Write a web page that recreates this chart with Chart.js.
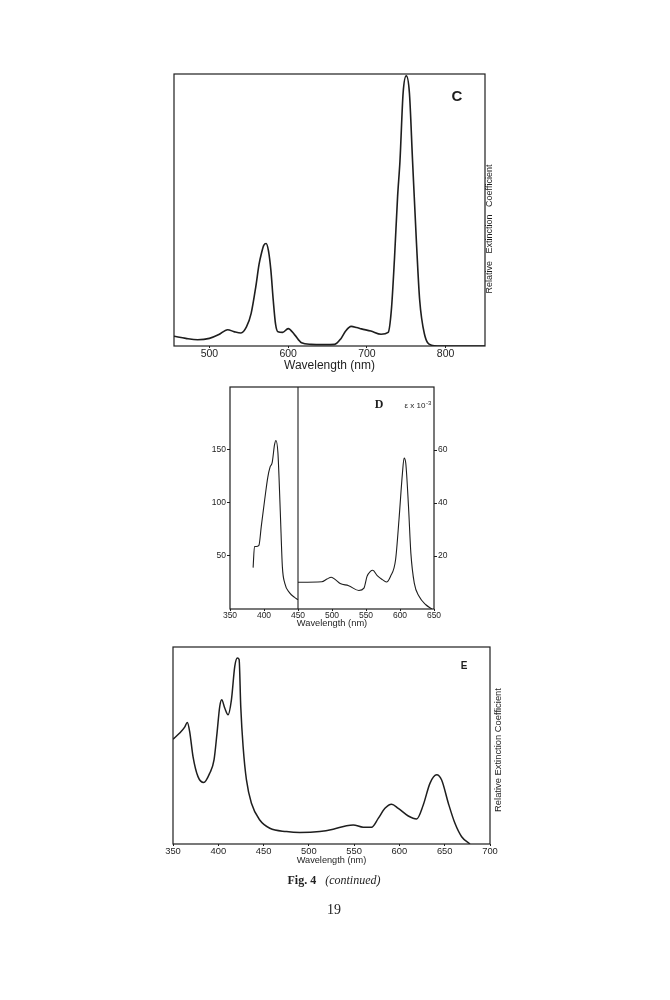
<!DOCTYPE html>
<html>
<head>
<meta charset="utf-8">
<script src="https://cdn.jsdelivr.net/npm/chart.js@4.4.1/dist/chart.umd.min.js"></script>
<style>
  body { margin: 0; background: #fff; }
  #page { position: relative; width: 670px; height: 1000px; overflow: hidden; background: #fff; }
  canvas { position: absolute; }
  .cap { position: absolute; left: 0; width: 668px; text-align: center; font-family: "Liberation Serif", serif; color: #222; }
</style>
</head>
<body>
<div id="page">
  <canvas id="chartC"></canvas>
  <canvas id="chartD"></canvas>
  <canvas id="chartE"></canvas>
  <div class="cap" style="top:873px;font-size:12px"><b>Fig. 4</b>&nbsp;&nbsp;&nbsp;<i>(continued)</i></div>
  <div class="cap" style="top:902px;font-size:14px">19</div>
</div>
<script>
// panel C - relative extinction, 455-850 nm
const C_NM  = [455, 470, 485, 500, 512, 523, 532, 540, 547, 553, 559, 563, 566, 569, 572, 575, 578, 581, 584, 587,
               593, 600, 608, 617, 629, 645, 659, 667, 673, 680, 687, 693, 705, 718, 727, 731, 735, 739, 742, 746,
               750, 754, 758, 763, 767, 773, 782, 790, 850];
const C_REL = [0.036, 0.028, 0.023, 0.028, 0.042, 0.060, 0.052, 0.048, 0.070, 0.120, 0.220, 0.300, 0.340, 0.370, 0.377, 0.350, 0.280, 0.170, 0.080, 0.052,
               0.050, 0.064, 0.042, 0.012, 0.006, 0.005, 0.006, 0.027, 0.055, 0.072, 0.068, 0.063, 0.055, 0.043, 0.050, 0.130, 0.320, 0.550, 0.680, 0.930,
               0.993, 0.930, 0.680, 0.377, 0.170, 0.045, 0.003, 0, 0];
const C_TICKS = [500, 600, 700, 800];

// panel D - epsilon x 10^-3, Soret band on left axis, visible on right axis
const D_SORET_NM  = [384, 386, 388.5, 392.5, 396, 401, 405.5, 409, 412, 415.5, 417.5, 420.5, 424, 427, 430.5, 438, 445, 450];
const D_SORET_EPS = [39, 59, 59, 60, 78, 103, 124, 134, 138, 155, 159, 147, 91, 40, 24.5, 15, 11, 8.8];
const D_VIS_NM  = [450, 485, 492.5, 499, 505, 512, 524.5, 539.5, 547, 551.5, 556.5, 560, 566.5, 574, 580, 586, 593.5, 598.5, 603.5, 606, 608.5, 612.5, 616, 621, 628, 638, 647];
const D_VIS_EPS = [10.1, 10.3, 11.3, 12.0, 11.1, 9.6, 8.8, 7.0, 7.9, 12.3, 14.2, 14.6, 12.6, 11.1, 10.2, 12.3, 18.6, 33.7, 51, 57, 55, 38.7, 21, 9.8, 4.8, 1.6, 0];
const D_X_TICKS = [350, 400, 450, 500, 550, 600, 650];
const D_LEFT_TICKS = [50, 100, 150];
const D_RIGHT_TICKS = [20, 40, 60];
const D_LEFT_MAX = 209.4;
const D_RIGHT_MAX = 83.8;
const D_SPLIT_NM = 450;

// panel E - relative extinction, 350-700 nm
const E_NM  = [350, 357.4, 362.9, 365.8, 368.4, 372.1, 377.6, 383.9, 390.5, 395.3, 398.6, 401.6, 403.8, 407.1, 410.8, 414.5, 418.2, 421.1, 423, 424.8,
               427.4, 431.1, 436.6, 445.8, 456.9, 475.3, 490, 512.1, 526.9, 541.6, 549, 560, 569.2, 576.6, 584, 591.3, 598.7, 609.8, 619, 626.3,
               633.7, 641.1, 646.6, 654, 661.3, 668.7, 677.9];
const E_REL = [0.532, 0.563, 0.593, 0.617, 0.571, 0.444, 0.342, 0.312, 0.359, 0.427, 0.563, 0.698, 0.732, 0.690, 0.656, 0.732, 0.902, 0.944, 0.936, 0.698,
               0.495, 0.325, 0.207, 0.122, 0.080, 0.063, 0.058, 0.063, 0.075, 0.093, 0.097, 0.085, 0.085, 0.130, 0.181, 0.202, 0.181, 0.142, 0.127, 0.198,
               0.308, 0.351, 0.325, 0.207, 0.105, 0.037, 0];
const E_TICKS = [350, 400, 450, 500, 550, 600, 650, 700];

const INK = "#1e1e1e";
const SANS = '"Liberation Sans", Arial, sans-serif';
const SERIF = '"Liberation Serif", serif';

const pts = (xs, ys) => xs.map((x, i) => ({ x: x, y: ys[i] }));

function curve(data, axis, width) {
  return {
    data: data, yAxisID: axis, showLine: true, borderColor: INK, borderWidth: width,
    pointRadius: 0, tension: 0.3, cubicInterpolationMode: "monotone", fill: false
  };
}

const frame = {
  id: "frame",
  afterDatasetsDraw(chart) {
    const a = chart.chartArea, c = chart.ctx;
    c.save();
    c.strokeStyle = INK;
    c.lineWidth = 1.2;
    c.strokeRect(a.left, a.top, a.right - a.left, a.bottom - a.top);
    c.restore();
  }
};

// labels placed in page coordinates
function notes(left, top, items) {
  return {
    id: "notes",
    afterDraw(chart) {
      const c = chart.ctx;
      items.forEach(n => {
        c.save();
        c.fillStyle = INK;
        c.font = n.font;
        c.textAlign = "center";
        c.textBaseline = "middle";
        c.translate(n.x - left, n.y - top);
        if (n.rot) c.rotate(n.rot);
        c.fillText(n.text, 0, 0);
        if (n.sup) {
          const w = c.measureText(n.text).width;
          c.font = n.supFont;
          c.textAlign = "left";
          c.fillText(n.sup, w / 2 + 0.5, -3);
        }
        c.restore();
      });
    }
  };
}

function xAxis(min, max, ticks, o) {
  return {
    type: "linear", position: "bottom", min: min, max: max,
    afterBuildTicks: s => { s.ticks = ticks.map(v => ({ value: v })); },
    afterFit: s => { s.height = o.h; },
    ticks: { color: INK, font: { family: SANS, size: o.fs }, padding: o.pad, autoSkip: false, maxRotation: 0 },
    grid: { drawOnChartArea: false, drawTicks: true, tickLength: o.tl, color: INK },
    border: { display: false },
    title: { display: true, text: "Wavelength (nm)", color: INK, font: { family: SANS, size: o.ts }, padding: { top: 0, bottom: o.tpb } }
  };
}

function yAxis(pos, max, ticks, width) {
  return {
    type: "linear", position: pos, min: 0, max: max,
    display: ticks ? true : false,
    afterBuildTicks: s => { if (ticks) s.ticks = ticks.map(v => ({ value: v })); },
    afterFit: s => { s.width = width; },
    ticks: { color: INK, font: { family: SANS, size: 8.5 }, padding: 1, autoSkip: false },
    grid: { drawOnChartArea: false, drawTicks: true, tickLength: 3, color: INK },
    border: { display: false }
  };
}

function place(id, left, top, w, h) {
  const el = document.getElementById(id);
  el.width = w; el.height = h;
  el.style.left = left + "px"; el.style.top = top + "px";
  el.style.width = w + "px"; el.style.height = h + "px";
  return el;
}

const base = {
  responsive: false, animation: false, devicePixelRatio: 1,
  plugins: { legend: { display: false }, tooltip: { enabled: false } }
};

// C
new Chart(place("chartC", 140, 60, 380, 330), {
  type: "scatter",
  data: { datasets: [curve(pts(C_NM, C_REL), "y", 1.6)] },
  options: Object.assign({}, base, {
    layout: { padding: { left: 34, right: 35, top: 14, bottom: 14 } },
    scales: {
      x: xAxis(455, 850, C_TICKS, { h: 30, fs: 10.5, pad: 0, tl: 2, ts: 12, tpb: 3 }),
      y: yAxis("left", 1, null, 0)
    }
  }),
  plugins: [frame, notes(140, 60, [
    { text: "C", x: 457, y: 97, font: "bold 15px " + SANS },
    { text: "Relative   Extinction   Coefficient", x: 490, y: 229, rot: -Math.PI / 2, font: "9px " + SANS }
  ])]
});

// D
new Chart(place("chartD", 190, 375, 290, 260), {
  type: "scatter",
  data: {
    datasets: [
      curve(pts(D_SORET_NM, D_SORET_EPS), "y", 1.1),
      curve(pts(D_VIS_NM, D_VIS_EPS), "y2", 1.1),
      curve(pts([D_SPLIT_NM, D_SPLIT_NM], [0, D_LEFT_MAX]), "y", 1.1)
    ]
  },
  options: Object.assign({}, base, {
    layout: { padding: { left: 0, right: 0, top: 12, bottom: 0 } },
    scales: {
      x: xAxis(350, 650, D_X_TICKS, { h: 26, fs: 8.5, pad: 0, tl: 2, ts: 9.3, tpb: 6 }),
      y: yAxis("left", D_LEFT_MAX, D_LEFT_TICKS, 40),
      y2: yAxis("right", D_RIGHT_MAX, D_RIGHT_TICKS, 46)
    }
  }),
  plugins: [frame, notes(190, 375, [
    { text: "D", x: 379, y: 405, font: "bold 12px " + SERIF },
    { text: "\u03b5 x 10", x: 415, y: 406, font: "8px " + SANS, sup: "-3", supFont: "6px " + SANS }
  ])]
});

// E
new Chart(place("chartE", 140, 635, 380, 240), {
  type: "scatter",
  data: { datasets: [curve(pts(E_NM, E_REL), "y", 1.5)] },
  options: Object.assign({}, base, {
    layout: { padding: { left: 33, right: 30, top: 12, bottom: 7 } },
    scales: {
      x: xAxis(350, 700, E_TICKS, { h: 24, fs: 9.4, pad: 0, tl: 2, ts: 9.2, tpb: 2 }),
      y: yAxis("left", 1, null, 0)
    }
  }),
  plugins: [frame, notes(140, 635, [
    { text: "E", x: 464, y: 666, font: "bold 10px " + SANS },
    { text: "Relative Extinction Coefficient", x: 498, y: 750, rot: -Math.PI / 2, font: "9.4px " + SANS }
  ])]
});
</script>
</body>
</html>
